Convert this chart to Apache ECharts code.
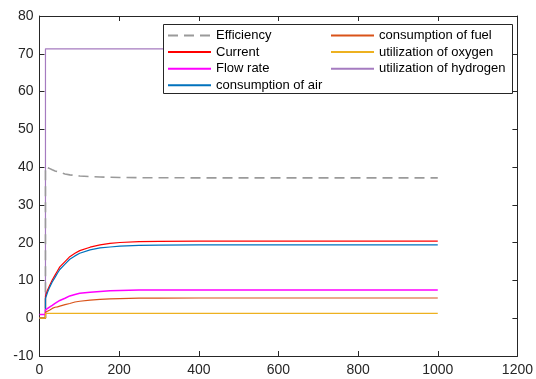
<!DOCTYPE html>
<html><head><meta charset="utf-8">
<script src="https://cdn.jsdelivr.net/npm/echarts@6/dist/echarts.min.js"></script>
<style>html,body{margin:0;padding:0;background:#fff}#c{width:536px;height:379px}</style>
</head><body><div id="c"></div>
<script>
var time        = [0, 15, 15, 20, 26, 32, 39, 45, 51, 64, 76, 89, 101, 127, 152, 177, 202, 250, 300, 400, 500, 700, 1000];
var efficiency  = [0, 0, 40.1, 39.9, 39.6, 39.3, 39.0, 38.8, 38.6, 38.2, 37.95, 37.8, 37.65, 37.5, 37.4, 37.3, 37.25, 37.2, 37.2, 37.15, 37.15, 37.15, 37.15];
var current     = [0, 0, 5.8, 7.4, 8.8, 10.1, 11.4, 12.5, 13.6, 15.0, 16.3, 17.2, 17.9, 18.8, 19.4, 19.8, 20.05, 20.25, 20.35, 20.4, 20.4, 20.4, 20.4];
var flowRate    = [1, 1, 2.2, 2.6, 3.0, 3.4, 3.9, 4.3, 4.7, 5.3, 5.9, 6.3, 6.6, 6.9, 7.1, 7.3, 7.35, 7.45, 7.5, 7.5, 7.5, 7.5, 7.5];
var airCons     = [0, 0, 5.2, 6.8, 8.3, 9.6, 10.8, 11.9, 12.9, 14.3, 15.6, 16.5, 17.2, 18.1, 18.6, 18.85, 19.1, 19.3, 19.35, 19.4, 19.4, 19.4, 19.4];
var fuelCons    = [0, 0, 1.6, 1.9, 2.2, 2.6, 2.9, 3.0, 3.2, 3.6, 3.9, 4.3, 4.5, 4.8, 5.0, 5.1, 5.2, 5.3, 5.33, 5.35, 5.35, 5.35, 5.35];
var oxygenUtil  = [0, 0, 1.3, 1.3, 1.3, 1.3, 1.3, 1.3, 1.3, 1.3, 1.3, 1.3, 1.3, 1.3, 1.3, 1.3, 1.3, 1.3, 1.3, 1.3, 1.3, 1.3, 1.3];
var hydrogenUtil= [0, 0, 71.3, 71.3, 71.3, 71.3, 71.3, 71.3, 71.3, 71.3, 71.3, 71.3, 71.3, 71.3, 71.3, 71.3, 71.3, 71.3, 71.3, 71.3, 71.3, 71.3, 71.3];
var names = ['Efficiency','Current','Flow rate','consumption of air','consumption of fuel','utilization of oxygen','utilization of hydrogen'];

function pairs(v){ return time.map(function(t,i){ return [t, v[i]]; }); }
var chart = echarts.init(document.getElementById('c'), null, {renderer:'canvas'});
var axisCol = '#262626';
function mk(name, v, color, extra){
  var s = {name:name, type:'line', data:pairs(v), symbol:'none', showSymbol:false, animation:false,
    color:color, lineStyle:{color:color, width:1.2}};
  if (extra) for (var k in extra) s.lineStyle[k]=extra[k];
  return s;
}
function ax(extra){
  var a = {type:'value', axisLine:{show:true, onZero:false, lineStyle:{color:axisCol}},
    axisTick:{show:true, inside:true, length:5, lineStyle:{color:axisCol}}, splitLine:{show:false}};
  for (var k in extra) a[k]=extra[k];
  return a;
}
var lab = {color:axisCol, fontFamily:'Liberation Sans, Arial', fontSize:14};
var txt = {fontFamily:'Liberation Sans, Arial', fontSize:13, color:'#000'};
function leg(list, left){
  return {data:list, orient:'vertical', left:left, top:29, padding:0,
     itemWidth:43, itemHeight:14, itemGap:3.6, textStyle:txt, z:101,
     itemStyle:{opacity:0}, selectedMode:false};
}
chart.setOption({
  animation:false,
  grid:{left:39.5, right:18, top:16, bottom:23},
  xAxis:[ax({min:0, max:1200, interval:200, position:'bottom',
             axisLabel:Object.assign({margin:7, formatter:function(v){return String(v);}}, lab)}),
         ax({min:0, max:1200, interval:200, position:'top', axisLabel:{show:false}})],
  yAxis:[ax({min:-10, max:80, interval:10, position:'left',
             axisLabel:Object.assign({margin:6, formatter:function(v){return String(v);}}, lab)}),
         ax({min:-10, max:80, interval:10, position:'right', axisLabel:{show:false}})],
  graphic:[{type:'rect', left:163, top:24, z:100, shape:{width:349, height:69},
    style:{fill:'#fff', stroke:axisCol, lineWidth:1}}],
  legend:[ leg([names[0],names[1],names[2],names[3]], 167),
           leg([names[4],names[5],names[6]], 330) ],
  series:[
    mk(names[6], hydrogenUtil, '#a57bc0'),
    mk(names[0], efficiency, '#9a9a9a', {type:[10,6], width:1.6}),
    mk(names[1], current, '#ff0000'),
    mk(names[3], airCons, '#0072bd'),
    mk(names[2], flowRate, '#ff00ff', {width:1.5}),
    mk(names[4], fuelCons, '#d95319'),
    mk(names[5], oxygenUtil, '#edb120')
  ]
});
</script></body></html>
